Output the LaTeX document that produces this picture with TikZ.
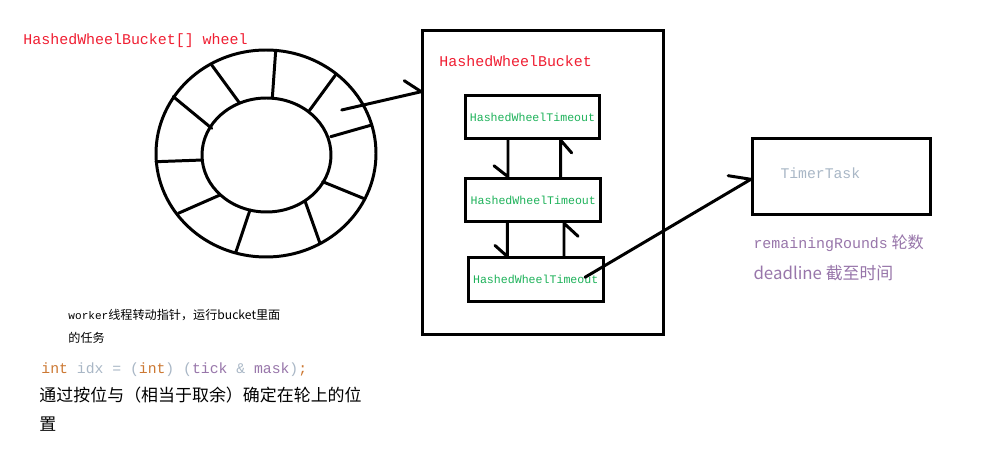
\documentclass[tikz,border=0pt]{standalone}
\usepackage{fontspec}
\setmonofont{Liberation Mono}
\newfontfamily\cjk{Noto Sans CJK SC}
\definecolor{tred}{RGB}{240,30,50}
\definecolor{tgreen}{RGB}{30,178,90}
\definecolor{tgrey}{RGB}{169,183,198}
\definecolor{tpurple}{RGB}{152,118,170}
\definecolor{torange}{RGB}{204,120,50}
\begin{document}
\begin{tikzpicture}[x=0.02cm,y=-0.02cm,line width=1.7pt,line cap=round,line join=round,
  lbl/.style={anchor=west,inner sep=0pt},
  mono/.style={font=\ttfamily\fontsize{#1}{#1}\selectfont},
  cjkf/.style={font=\cjk\fontsize{#1}{#1}\selectfont},
  tobox/.style={draw,line cap=butt,line join=miter,minimum width=2.7cm,minimum height=0.87cm,inner sep=0pt,text=tgreen,mono=6.6pt},
  box/.style={draw,line cap=butt,line join=miter,inner sep=0pt}]
\fill[white] (0,0) rectangle (991,459);
\useasboundingbox (0,0) rectangle (991,459);

% wheel
\draw (266,153.5) ellipse [x radius=110,y radius=103.5];
\draw (266.5,155) ellipse [x radius=64.5,y radius=57];
\foreach \a/\b/\c/\d in {275.7/50.7/272.3/98.3, 211.7/65/239.3/102.7, 173.3/96.7/211.7/128.3,
  156/161.7/202.7/160, 178.3/213.3/220/195, 236/251.7/250/210, 320/243.3/305/201,
  363.3/198.3/322.7/181.7, 371.7/125/330.7/136.7, 336/74.3/309.3/110.7}
  \draw (\a,\b) -- (\c,\d);

\node[lbl,text=tred,mono=8.5pt] (wl) at (22,41) {HashedWheelBucket[] wheel};

% bucket
\node[box,minimum width=4.826cm,minimum height=6.1cm] (bucket) at (543.35,182.5) {};
\node[lbl,text=tred,mono=8.5pt] (bl) at (438,61) {HashedWheelBucket};

\node[tobox] (b1) at (532.5,117) {HashedWheelTimeout};
\node[tobox] (b2) at (533.3,200) {HashedWheelTimeout};
\node[tobox] (b3) at (535.7,279.7) {HashedWheelTimeout};

\draw (b1.south -| 508,0) -- (b2.north -| 508,0) -- ++(-14,-11);
\draw (b2.north -| 560.7,0) -- (b1.south -| 560.7,0) -- ++(11,12.7);
\draw (b2.south -| 507.3,0) -- (b3.north -| 507.3,0) -- ++(-12.3,-11);
\draw (b3.north -| 564,0) -- (b2.south -| 564,0) -- ++(14,13);

% wheel -> bucket
\coordinate (wa) at (341.7,110);
\draw (wa) -- (bucket.west |- 0,91.7) -- ++(-17,-11);

% timer task
\node[box,minimum width=3.554cm,minimum height=1.52cm] (timer) at (841.2,176.3) {};
\node[lbl,text=tgrey,mono=8.4pt] (tt) at (779,173) {TimerTask};
\coordinate (ta) at (585,277.3);
\draw (ta) -- (timer.west |- 0,179.3) -- ++(-22.7,-3.6);

\node[lbl,text=tpurple] (rr) at (752,243.3) {\ttfamily\fontsize{8.5pt}{8.5pt}\selectfont remainingRounds\cjk\fontsize{9.2pt}{9.2pt}\selectfont{} 轮数};
\node[lbl,text=tpurple,cjkf=9.6pt] (dl) at (752,272.7) {deadline 截至时间};

% bottom-left notes
\node[lbl] (w1) at (67,315) {\ttfamily\fontsize{6.3pt}{6.3pt}\selectfont worker\cjk\fontsize{6.9pt}{6.9pt}\selectfont 线程转动指针，运行bucket里面};
\node[lbl,cjkf=6.9pt] (w2) at (67,338) {的任务};
\node[lbl,mono=8.4pt] (code) at (40,370) {{\color{torange}int}\ {\color{tgrey}idx\ =\ (}{\color{torange}int}{\color{tgrey})\ (}{\color{tpurple}tick}\ {\color{tgrey}\&}\ {\color{tpurple}mask}{\color{tgrey})}{\color{torange};}};
\node[lbl,cjkf=9.65pt] (c1) at (38,395) {通过按位与（相当于取余）确定在轮上的位};
\node[lbl,cjkf=9.65pt] (c2) at (38,424) {置};
\end{tikzpicture}
\end{document}
